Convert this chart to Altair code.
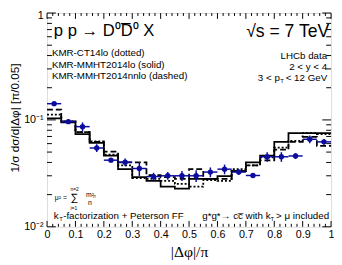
import altair as alt
import pandas as pd

# ---------------- data ----------------
bin_lo = [0.00, 0.05, 0.10, 0.15, 0.20, 0.25, 0.30, 0.35, 0.40, 0.45,
          0.50, 0.55, 0.60, 0.65, 0.70, 0.75, 0.80, 0.85, 0.90, 0.95]
bin_w = 0.05

lhcb_y = [0.1418, 0.0963, 0.0865, 0.0546, 0.0420, 0.0402, 0.0351, 0.0295, 0.0300, 0.0300,
          0.0300, 0.0325, 0.0346, 0.0325, 0.0302, 0.0452, 0.0452, 0.0460, 0.0659, 0.0623]
lhcb_err = [0.0030, 0.0040, 0.0082, 0.0046, 0.0018, 0.0034, 0.0052, 0.0025, 0.0025, 0.0032,
            0.0038, 0.0034, 0.0036, 0.0020, 0.0008, 0.0047, 0.0047, 0.0029, 0.0055, 0.0039]

ct14lo = [0.1122, 0.0969, 0.0769, 0.0630, 0.0474, 0.0376, 0.0286, 0.0280, 0.0269, 0.0252,
          0.0237, 0.0274, 0.0269, 0.0346, 0.0376, 0.0445, 0.0549, 0.0636, 0.0753, 0.0737]
mmht_lo = [0.1032, 0.0949, 0.0737, 0.0610, 0.0464, 0.0346, 0.0292, 0.0269, 0.0237, 0.0227,
           0.0280, 0.0280, 0.0298, 0.0331, 0.0401, 0.0464, 0.0623, 0.0753, 0.0753, 0.0753]
mmht_nnlo = [0.1247, 0.0969, 0.0769, 0.0623, 0.0505, 0.0401, 0.0401, 0.0305, 0.0292, 0.0280,
             0.0346, 0.0280, 0.0280, 0.0331, 0.0376, 0.0418, 0.0527, 0.0623, 0.0692, 0.0573]

x_major = [0.0, 0.1, 0.2, 0.3, 0.4, 0.5, 0.6, 0.7, 0.8, 0.9, 1.0]
x_minor = [0.02, 0.04, 0.06, 0.08, 0.12, 0.14, 0.16, 0.18, 0.22, 0.24, 0.26, 0.28,
           0.32, 0.34, 0.36, 0.38, 0.42, 0.44, 0.46, 0.48, 0.52, 0.54, 0.56, 0.58,
           0.62, 0.64, 0.66, 0.68, 0.72, 0.74, 0.76, 0.78, 0.82, 0.84, 0.86, 0.88,
           0.92, 0.94, 0.96, 0.98]
y_major = [0.01, 0.1, 1.0]
y_minor = [0.02, 0.03, 0.04, 0.05, 0.06, 0.07, 0.08, 0.09,
           0.2, 0.3, 0.4, 0.5, 0.6, 0.7, 0.8, 0.9]

W, H = 291, 219
BLUE = "#0c0c9e"
FONT = "Liberation Sans"

# ---------------- tables ----------------
pts = pd.DataFrame({
    "x": [b + bin_w / 2 for b in bin_lo],
    "xlo": bin_lo,
    "xhi": [b + bin_w for b in bin_lo],
    "y": lhcb_y,
    "ylo": [v - e for v, e in zip(lhcb_y, lhcb_err)],
    "yhi": [v + e for v, e in zip(lhcb_y, lhcb_err)],
})


def hist_df(vals):
    return pd.DataFrame({"x": bin_lo + [1.0], "y": vals + [vals[-1]]})


xscale = alt.Scale(domain=[0, 1], nice=False, zero=False)
yscale = alt.Scale(type="log", domain=[0.01, 1], nice=False)

xaxis = alt.Axis(
    values=x_major, title="|Δφ|/π", ticks=False, domain=False, grid=False,
    labelExpr="datum.value == 0 ? '0' : (datum.value > 0.999 ? '1' : format(datum.value, '.1f'))",
    labelFont=FONT, labelFontSize=11, labelColor="black", labelPadding=2,
    labelFlush=False, labelOverlap=False,
    titleFont="Liberation Serif", titleFontSize=16, titleFontWeight="normal",
    titleColor="black", titleY=25, titleBaseline="middle",
)
yaxis = alt.Axis(
    values=y_major, title="1/σ dσ/d|Δφ|   [π/0.05]", ticks=False, domain=False, grid=False,
    labelExpr="datum.value > 0.99 ? '1' : (datum.value > 0.099 ? '10⁻¹' : '10⁻²')",
    labelBaseline=alt.condition("datum.value > 0.99", alt.value("top"), alt.value("middle")),
    labelOffset=alt.condition("datum.value > 0.99", alt.value(-3), alt.value(0)),
    labelFont=FONT, labelFontSize=11, labelColor="black", labelPadding=4,
    labelFlush=False, labelOverlap=False,
    titleFont=FONT, titleFontSize=12, titleFontWeight="normal", titleColor="black",
    titleX=-33, titleY=107, titleAngle=-90, titleBaseline="middle", titleAlign="center",
)

X = lambda f="x": alt.X(f"{f}:Q", scale=xscale, axis=xaxis)
Y = lambda f="y": alt.Y(f"{f}:Q", scale=yscale, axis=yaxis)


# histograms
def hist_layer(vals, dash):
    return alt.Chart(hist_df(vals)).mark_line(
        interpolate="step-after", color="black", strokeWidth=1.8, strokeDash=dash
    ).encode(x=X(), y=Y())


h_ct = hist_layer(ct14lo, [2, 2])
h_lo = hist_layer(mmht_lo, [1, 0])
h_nnlo = hist_layer(mmht_nnlo, [6, 3])

# data
base = alt.Chart(pts)
xerr = base.mark_rule(color=BLUE, strokeWidth=1.5).encode(x=X("xlo"), x2="xhi:Q", y=Y())
yerr = base.mark_rule(color=BLUE, strokeWidth=1.5).encode(x=X(), y=Y("ylo"), y2="yhi:Q")
dots = base.mark_circle(color=BLUE, opacity=1, size=30).encode(x=X(), y=Y())


# ticks drawn inside the frame (ROOT style)
def xticks(vals, ln):
    d = pd.DataFrame({"x": vals})
    b = alt.Chart(d).mark_rule(color="black", strokeWidth=1)
    return (b.encode(x=X(), y=alt.value(H), y2=alt.value(H - ln)) +
            b.encode(x=X(), y=alt.value(0), y2=alt.value(ln)))


def yticks(vals, ln):
    d = pd.DataFrame({"y": vals})
    b = alt.Chart(d).mark_rule(color="black", strokeWidth=1)
    return (b.encode(y=Y(), x=alt.value(0), x2=alt.value(ln)) +
            b.encode(y=Y(), x=alt.value(W - ln), x2=alt.value(W)))


ticks = xticks(x_major, 6) + xticks(x_minor, 3) + yticks(y_major, 9) + yticks(y_minor, 5)


# text annotations
def txt(s, x, y, size=10, align="left", font=FONT, baseline="middle"):
    return alt.Chart(pd.DataFrame({"t": [s]})).mark_text(
        align=align, baseline=baseline, font=font, fontSize=size, color="black"
    ).encode(text="t:N", x=alt.value(x), y=alt.value(y))


texts = [
    txt("p p → D⁰D\u0305⁰ X", 7, 19, 17),
    txt("√s = 7 TeV", 289, 20, 18, align="right"),
    txt("KMR-CT14lo (dotted)", 5, 41, 10),
    txt("KMR-MMHT2014lo (solid)", 5, 53, 10),
    txt("KMR-MMHT2014nnlo (dashed)", 5, 65, 10),
    txt("LHCb data", 287, 44, 10, align="right"),
    txt("2 < y < 4", 287, 55, 10, align="right"),
    txt("3 < p", 216, 67, 10),
    txt("T", 239, 70, 6),
    txt("< 12 GeV", 287, 67, 10, align="right"),
    txt("μ² =", 8, 190, 7),
    txt("∑", 24, 190, 11),
    txt("n=2", 24, 180, 5),
    txt("i=1", 24, 199.5, 5),
    txt("m²", 40, 186, 7),
    txt("iT", 47, 189, 4),
    txt("n", 42, 195, 7),
    txt("k", 7, 208, 10),
    txt("T", 12.5, 211, 6),
    txt("-factorization + Peterson FF", 16.5, 208, 10),
    txt("g*g*→ cc\u0305 with k", 159, 208, 10),
    txt("T", 229, 211, 6),
    txt("> μ included", 289, 208, 10, align="right"),
]

layers = [h_ct, h_lo, h_nnlo, xerr, yerr, dots, ticks] + texts

chart = alt.layer(*layers).properties(
    width=W, height=H,
    autosize=alt.AutoSizeParams(type="none"),
    padding={"left": 40, "top": 2, "right": 3, "bottom": 36},
).configure_view(stroke="black", strokeWidth=2).configure(background="white")

chart.save("out.html", embed_options={"renderer": "svg", "actions": False})
